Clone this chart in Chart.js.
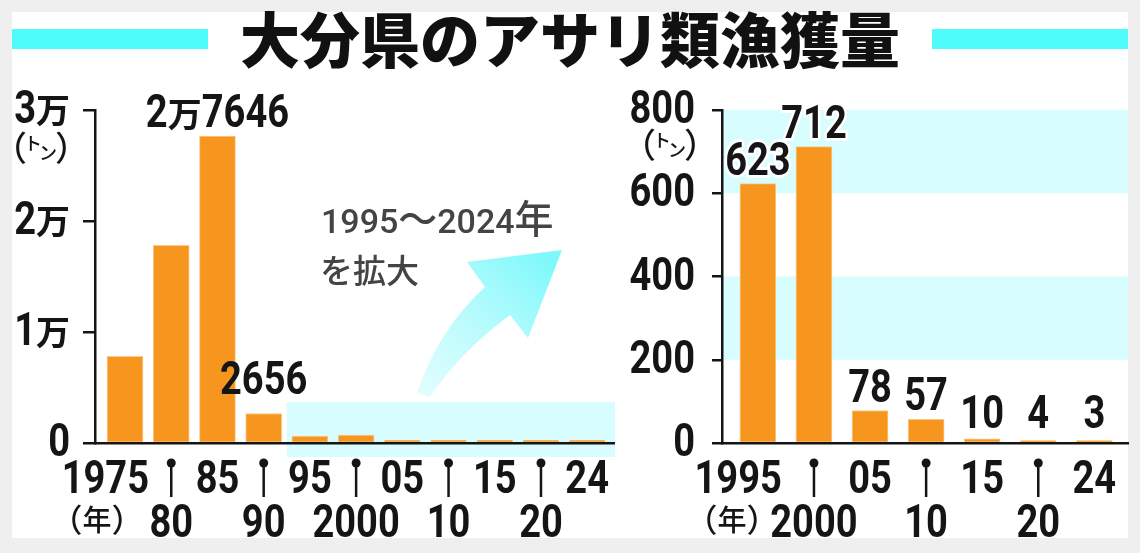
<!DOCTYPE html>
<html lang="ja">
<head>
<meta charset="utf-8">
<title>大分県のアサリ類漁獲量</title>
<script src="https://cdn.jsdelivr.net/npm/chart.js@4.4.1/dist/chart.umd.min.js"></script>
<style>
  html, body { margin: 0; padding: 0; }
  body { width: 1140px; height: 553px; background: #efefef; position: relative; overflow: hidden; font-family: "Noto Sans CJK JP", sans-serif; }
  #frame { position: absolute; left: 12px; top: 12px; width: 1116px; height: 526px; background: #fff; }
  .stripe { position: absolute; top: 29px; height: 20px; width: 196px; background: #4ffcfc; }
  #title { position: absolute; left: 0; top: 7px; width: 1140px; text-align: center; font-size: 60px; font-weight: 900; line-height: 60px; color: #111; }
  canvas { position: absolute; top: 0; }
</style>
</head>
<body>
<div id="frame"></div>
<div class="stripe" style="left:12px"></div>
<div class="stripe" style="left:932px"></div>
<div id="title">大分県のアサリ類漁獲量</div>
<canvas id="left" width="620" height="553" style="left:0"></canvas>
<canvas id="right" width="520" height="553" style="left:620px"></canvas>
<script>
// 1975〜2024年（左）
const leftYears = ['1975', '80', '85', '90', '95', '2000', '05', '10', '15', '20', '24'];
const leftValues = [7800, 17800, 27646, 2656, 623, 712, 78, 57, 10, 4, 3];
const leftBarLabels = ['', '', '2万7646', '2656', '', '', '', '', '', '', ''];
const leftTicks = [0, 10000, 20000, 30000];
const leftTickLabels = ['0', '1万', '2万', '3万'];

// 1995〜2024年を拡大（右）
const rightYears = ['1995', '2000', '05', '10', '15', '20', '24'];
const rightValues = [623, 712, 78, 57, 10, 4, 3];
const rightBarLabels = ['623', '712', '78', '57', '10', '4', '3'];
const rightTicks = [0, 200, 400, 600, 800];
const rightTickLabels = ['0', '200', '400', '600', '800'];

const ORANGE = '#f7961e';
const INK = '#151515';
const PALE = '#d8fdfe';

// 数字だけ横に詰めて描く（細長い数字に寄せる）
function drawText(ctx, text, x, y, o) {
    const runs = text.match(/[0-9]+|[^0-9]+/g) || [];
    const parts = runs.map(r => {
        const isNum = /^[0-9]/.test(r);
        ctx.font = isNum ? `${o.weight} ${o.size}px Roboto` : `${o.weight} ${o.cjkSize || o.size}px "Noto Sans CJK JP"`;
        const sx = isNum ? (o.squeeze || 0.81) : 1;
        return { r, sx, font: ctx.font, w: ctx.measureText(r).width * sx };
    });
    const total = parts.reduce((a, p) => a + p.w, 0);
    let cx = o.align === 'right' ? x - total : o.align === 'left' ? x : x - total / 2;
    parts.forEach(p => {
        ctx.save();
        ctx.font = p.font;
        ctx.textAlign = 'left';
        ctx.textBaseline = 'alphabetic';
        ctx.translate(cx, y);
        ctx.scale(p.sx, 1);
        if (o.halo) {
            ctx.strokeStyle = '#fff';
            ctx.lineWidth = o.halo;
            ctx.lineJoin = 'round';
            ctx.strokeText(p.r, 0, 0);
        }
        ctx.fillStyle = o.color || INK;
        ctx.fillText(p.r, 0, 0);
        ctx.restore();
        cx += p.w;
    });
}

// 小さな部品を並べて描く（（トン） や （年） 用）
function drawPieces(ctx, pieces, cx) {
    const w = pieces.map(p => { ctx.font = p.font; return ctx.measureText(p.t).width + (p.gap || 0); });
    let x = cx - w.reduce((a, b) => a + b, 0) / 2;
    ctx.save();
    ctx.fillStyle = INK;
    ctx.textAlign = 'left';
    ctx.textBaseline = 'alphabetic';
    pieces.forEach((p, i) => {
        ctx.font = p.font;
        ctx.fillText(p.t, x, p.y);
        x += w[i];
    });
    ctx.restore();
}

function unitPieces(y) {
    const paren = '500 34px "Noto Sans CJK JP"';
    const small = '500 18px "Noto Sans CJK JP"';
    return [
        { t: '（', font: paren, y: y, gap: -3 },
        { t: 'ト', font: small, y: y - 11, gap: -3 },
        { t: 'ン', font: small, y: y - 1, gap: -2 },
        { t: '）', font: paren, y: y }
    ];
}

function nenPieces(y) {
    const paren = '500 32px "Noto Sans CJK JP"';
    const f = '500 29px "Noto Sans CJK JP"';
    return [
        { t: '（', font: paren, y: y + 1, gap: 0 },
        { t: '年', font: f, y: y, gap: 0 },
        { t: '）', font: paren, y: y + 1 }
    ];
}

const big = { size: 47, cjkSize: 34, weight: 'bold' };

function decor(cfg) {
    return {
        id: 'decor',
        beforeDraw(chart) {
            if (cfg.back) cfg.back(chart);
        },
        afterDraw(chart) {
            const ctx = chart.ctx;
            const x = chart.scales.x;
            const y = chart.scales.y;
            const area = chart.chartArea;

            // 目盛りの数字
            cfg.ticks.forEach((v, i) => {
                drawText(ctx, cfg.tickLabels[i], area.left - cfg.labelGap, y.getPixelForValue(v) + 13, { ...big, align: 'right' });
            });
            drawPieces(ctx, unitPieces(cfg.unitY), cfg.unitX);

            // 年の目盛り（2段、下段はピン付き）
            cfg.years.forEach((c, i) => {
                const px = x.getPixelForValue(i);
                if (i === 0) {
                    drawText(ctx, c, px + 24, 493, { ...big, align: 'right' });
                } else if (i % 2 === 0) {
                    drawText(ctx, c, px, 493, big);
                } else {
                    ctx.save();
                    ctx.fillStyle = INK;
                    ctx.strokeStyle = INK;
                    ctx.lineWidth = 2.5;
                    ctx.beginPath();
                    ctx.arc(px, 463, 4.5, 0, Math.PI * 2);
                    ctx.fill();
                    ctx.beginPath();
                    ctx.moveTo(px, 463);
                    ctx.lineTo(px, 497);
                    ctx.stroke();
                    ctx.restore();
                    drawText(ctx, c, px, 537, big);
                }
            });
            drawPieces(ctx, nenPieces(531), cfg.nenX);

            // 棒の上の数値
            const meta = chart.getDatasetMeta(0);
            const floor = y.getPixelForValue(0) - cfg.labelLift;
            meta.data.forEach((bar, i) => {
                const t = cfg.barLabels[i];
                if (!t) return;
                drawText(ctx, t, bar.x, Math.min(bar.y - 9, floor), { ...big, halo: cfg.halo });
            });

            if (cfg.extra) cfg.extra(chart);
        }
    };
}

function makeChart(id, values, cfg) {
    return new Chart(document.getElementById(id), {
        type: 'bar',
        data: {
            datasets: [{
                data: values.map((v, i) => ({ x: i, y: v })),
                backgroundColor: ORANGE,
                borderColor: '#fbc98a',
                borderWidth: 1,
                borderSkipped: 'bottom',
                barThickness: 36,
                minBarLength: cfg.minBar
            }]
        },
        options: {
            responsive: false,
            animation: false,
            layout: { padding: cfg.padding },
            plugins: { legend: { display: false }, tooltip: { enabled: false } },
            scales: {
                x: {
                    type: 'linear',
                    offset: false,
                    min: cfg.xMin,
                    max: cfg.xMax,
                    grid: { display: false },
                    ticks: { display: false },
                    border: { color: INK, width: 2.5 },
                    afterFit: s => { s.height = 0; }
                },
                y: {
                    min: 0,
                    max: cfg.yMax,
                    ticks: { display: false, stepSize: cfg.step },
                    grid: { drawOnChartArea: false, tickLength: cfg.tickLen, color: INK, lineWidth: 2.5 },
                    border: { color: INK, width: 2.5 },
                    afterFit: s => { s.width = cfg.tickLen; }
                }
            }
        },
        plugins: [decor(cfg)]
    });
}

// 左：全期間
makeChart('left', leftValues, {
    padding: { left: 83, right: 6, top: 110, bottom: 110 },
    xMin: -0.65, xMax: 10.58, yMax: 30000, step: 10000, tickLen: 12, minBar: 3,
    years: leftYears, barLabels: leftBarLabels,
    ticks: leftTicks, tickLabels: leftTickLabels, labelGap: 25,
    unitX: 41, unitY: 161, nenX: 97, labelLift: 49,
    back(chart) {
        // 拡大範囲の水色の帯
        const ctx = chart.ctx;
        const x = chart.scales.x;
        const y0 = chart.scales.y.getPixelForValue(0);
        const x0 = x.getPixelForValue(3.5);
        ctx.save();
        ctx.fillStyle = PALE;
        ctx.fillRect(x0, y0 - 41, chart.chartArea.right + 1 - x0, 55);
        ctx.restore();
    },
    extra(chart) {
        const ctx = chart.ctx;
        // 矢印
        ctx.save();
        const g = ctx.createLinearGradient(420, 397, 545, 255);
        g.addColorStop(0, 'rgba(215,253,254,0.7)');
        g.addColorStop(1, '#7ef8fb');
        ctx.fillStyle = g;
        ctx.beginPath();
        ctx.moveTo(417, 393);
        ctx.quadraticCurveTo(438, 330, 485, 287);
        ctx.lineTo(467, 262);
        ctx.lineTo(562, 250);
        ctx.lineTo(528, 338);
        ctx.lineTo(510, 315);
        ctx.quadraticCurveTo(460, 352, 430, 397);
        ctx.closePath();
        ctx.fill();
        ctx.restore();
        const note = { size: 34, cjkSize: 39, weight: '500', align: 'left', color: '#444', squeeze: 1 };
        drawText(ctx, '1995～2024年', 321, 233, note);
        drawText(ctx, 'を拡大', 320, 283, { ...note, cjkSize: 33 });
    }
});

// 右：1995〜2024年
makeChart('right', rightValues, {
    padding: { left: 92, right: 12, top: 110, bottom: 110 },
    xMin: -0.64, xMax: 6.6, yMax: 800, step: 200, tickLen: 10, minBar: 2.5,
    years: rightYears, barLabels: rightBarLabels,
    ticks: rightTicks, tickLabels: rightTickLabels, labelGap: 27,
    unitX: 50, unitY: 158, nenX: 112, labelLift: 15, halo: 6,
    back(chart) {
        const ctx = chart.ctx;
        const y = chart.scales.y;
        const a = chart.chartArea;
        ctx.save();
        ctx.fillStyle = PALE;
        [[600, 800], [200, 400]].forEach(([lo, hi]) => {
            const top = y.getPixelForValue(hi);
            ctx.fillRect(a.left, top, a.right - a.left, y.getPixelForValue(lo) - top);
        });
        ctx.restore();
    }
});
</script>
</body>
</html>
